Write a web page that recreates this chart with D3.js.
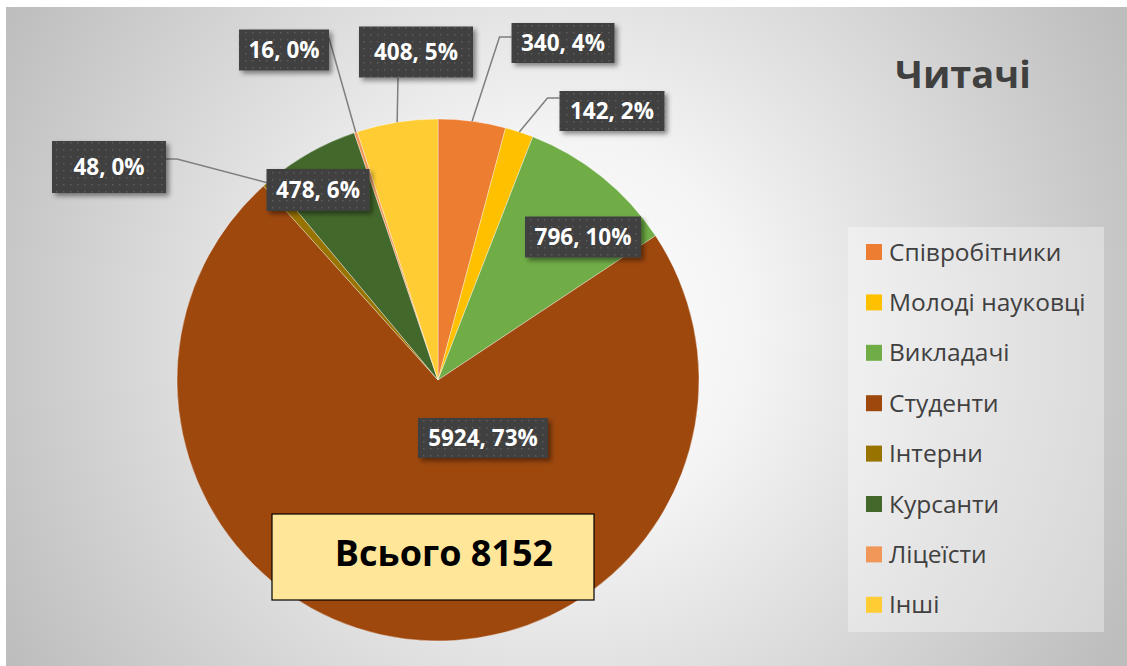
<!DOCTYPE html>
<html lang="uk">
<head>
<meta charset="UTF-8">
<title>Читачі</title>
<script src="https://d3js.org/d3.v7.min.js"></script>
<style>
    body { margin: 0; background: #fff; }
    svg { display: block; font-family: "Open Sans", "Noto Sans", sans-serif; }
</style>
</head>
<body>
<svg id="chart" width="1127" height="666"></svg>
<script>
// data
const categories = ["Співробітники", "Молоді науковці", "Викладачі", "Студенти",
    "Інтерни", "Курсанти", "Ліцеїсти", "Інші"];
const values = [340, 142, 796, 5924, 48, 478, 16, 408];
const percents = [4, 2, 10, 73, 0, 6, 0, 5];
const colors = ["#ED7D31", "#FFC000", "#70AD47", "#9E480E",
    "#997300", "#43682B", "#F1975A", "#FFCD33"];

// label boxes (placed by hand in the original), centre + size
const labelLayout = [
    { cx: 563, cy: 43, w: 103, h: 40, lead: "left", ay: 37 },
    { cx: 612, cy: 111, w: 105, h: 40, lead: "left", ay: 98 },
    { cx: 583, cy: 237, w: 116, h: 41 },
    { cx: 483, cy: 438, w: 130, h: 40 },
    { cx: 109, cy: 167, w: 114, h: 52, lead: "right", ay: 159 },
    { cx: 318, cy: 190, w: 103, h: 42 },
    { cx: 284, cy: 50, w: 90, h: 41, lead: "diag", ay: 38 },
    { cx: 416, cy: 52, w: 114, h: 51, lead: "bottom", ax: 398 }
];

const svg = d3.select("#chart");
const defs = svg.append("defs");

const bg = defs.append("radialGradient")
    .attr("id", "bg")
    .attr("gradientUnits", "userSpaceOnUse")
    .attr("cx", 560).attr("cy", 330).attr("r", 640);
bg.append("stop").attr("offset", 0).attr("stop-color", "#ffffff");
bg.append("stop").attr("offset", 0.3).attr("stop-color", "#f4f4f4");
bg.append("stop").attr("offset", 1).attr("stop-color", "#bdbdbd");

const dots = defs.append("pattern")
    .attr("id", "dots")
    .attr("patternUnits", "userSpaceOnUse")
    .attr("width", 7).attr("height", 7);
dots.append("rect").attr("width", 7).attr("height", 7).attr("fill", "#404040");
dots.append("rect").attr("x", 3).attr("y", 3).attr("width", 1.5).attr("height", 1.5).attr("fill", "#5c5c5c");

const shadow = defs.append("filter").attr("id", "shadow")
    .attr("x", "-20%").attr("y", "-20%").attr("width", "150%").attr("height", "160%");
shadow.append("feDropShadow")
    .attr("dx", 3).attr("dy", 3).attr("stdDeviation", 2.5)
    .attr("flood-color", "#000").attr("flood-opacity", 0.45);

// chart area
svg.append("rect")
    .attr("x", 6).attr("y", 7)
    .attr("width", 1121).attr("height", 659)
    .attr("fill", "url(#bg)");

// title
svg.append("text")
    .attr("x", 963).attr("y", 88)
    .attr("text-anchor", "middle")
    .attr("font-size", 38).attr("font-weight", "bold")
    .attr("fill", "#404040")
    .text("Читачі");

// pie
const cx = 438, cy = 380, r = 261;
const pie = d3.pie().sort(null).value(d => d)(values);
const arc = d3.arc().innerRadius(0).outerRadius(r);

const g = svg.append("g").attr("transform", `translate(${cx},${cy})`);
g.selectAll("path")
    .data(pie)
    .join("path")
    .attr("d", arc)
    .attr("fill", (d, i) => colors[i])
    .attr("stroke", "rgba(255,255,255,0.45)")
    .attr("stroke-width", 0.8);

// leader lines
function edgePoint(d) {
    const a = (d.startAngle + d.endAngle) / 2;
    return [cx + r * Math.sin(a), cy - r * Math.cos(a)];
}
pie.forEach((d, i) => {
    const L = labelLayout[i];
    if (!L.lead) return;
    const p = edgePoint(d);
    let pts;
    if (L.lead === "left") {
        const x0 = L.cx - L.w / 2;
        pts = [[x0, L.ay], [x0 - 12, L.ay], p];
    } else if (L.lead === "right") {
        const x0 = L.cx + L.w / 2;
        pts = [[x0, L.ay], [x0 + 11, L.ay], p];
    } else if (L.lead === "diag") {
        pts = [[L.cx + L.w / 2, L.ay], p];
    } else {
        pts = [[L.ax, L.cy + L.h / 2], p];
    }
    svg.append("path")
        .attr("d", d3.line()(pts))
        .attr("fill", "none")
        .attr("stroke", "#7f7f7f")
        .attr("stroke-width", 1.5);
});

// data labels
const labels = svg.append("g").selectAll("g")
    .data(pie)
    .join("g")
    .attr("transform", (d, i) => `translate(${labelLayout[i].cx},${labelLayout[i].cy})`);
labels.append("rect")
    .attr("x", (d, i) => -labelLayout[i].w / 2)
    .attr("y", (d, i) => -labelLayout[i].h / 2)
    .attr("width", (d, i) => labelLayout[i].w)
    .attr("height", (d, i) => labelLayout[i].h)
    .attr("fill", "url(#dots)")
    .attr("filter", "url(#shadow)");
labels.append("text")
    .attr("text-anchor", "middle")
    .attr("y", 8)
    .attr("font-size", 22.5).attr("font-weight", "bold")
    .attr("fill", "#ffffff")
    .text((d, i) => `${values[i]}, ${percents[i]}%`);

// total box
const total = d3.sum(values);
svg.append("rect")
    .attr("x", 272).attr("y", 514)
    .attr("width", 322).attr("height", 86)
    .attr("fill", "#FFE699")
    .attr("stroke", "#000").attr("stroke-width", 1.2);
svg.append("text")
    .attr("x", 444).attr("y", 566)
    .attr("text-anchor", "middle")
    .attr("font-size", 36).attr("font-weight", "bold")
    .attr("fill", "#000")
    .text(`Всього ${total}`);

// legend
svg.append("rect")
    .attr("x", 848).attr("y", 227)
    .attr("width", 256).attr("height", 405)
    .attr("fill", "#ffffff").attr("fill-opacity", 0.35);

const legend = svg.append("g").selectAll("g")
    .data(categories)
    .join("g")
    .attr("transform", (d, i) => `translate(866,${252 + i * 50.4})`);
legend.append("rect")
    .attr("y", -8).attr("width", 16).attr("height", 16)
    .attr("fill", (d, i) => colors[i]);
legend.append("text")
    .attr("x", 23).attr("y", 8.5)
    .attr("font-size", 24.5)
    .attr("fill", "#404040")
    .text(d => d);
</script>
</body>
</html>
